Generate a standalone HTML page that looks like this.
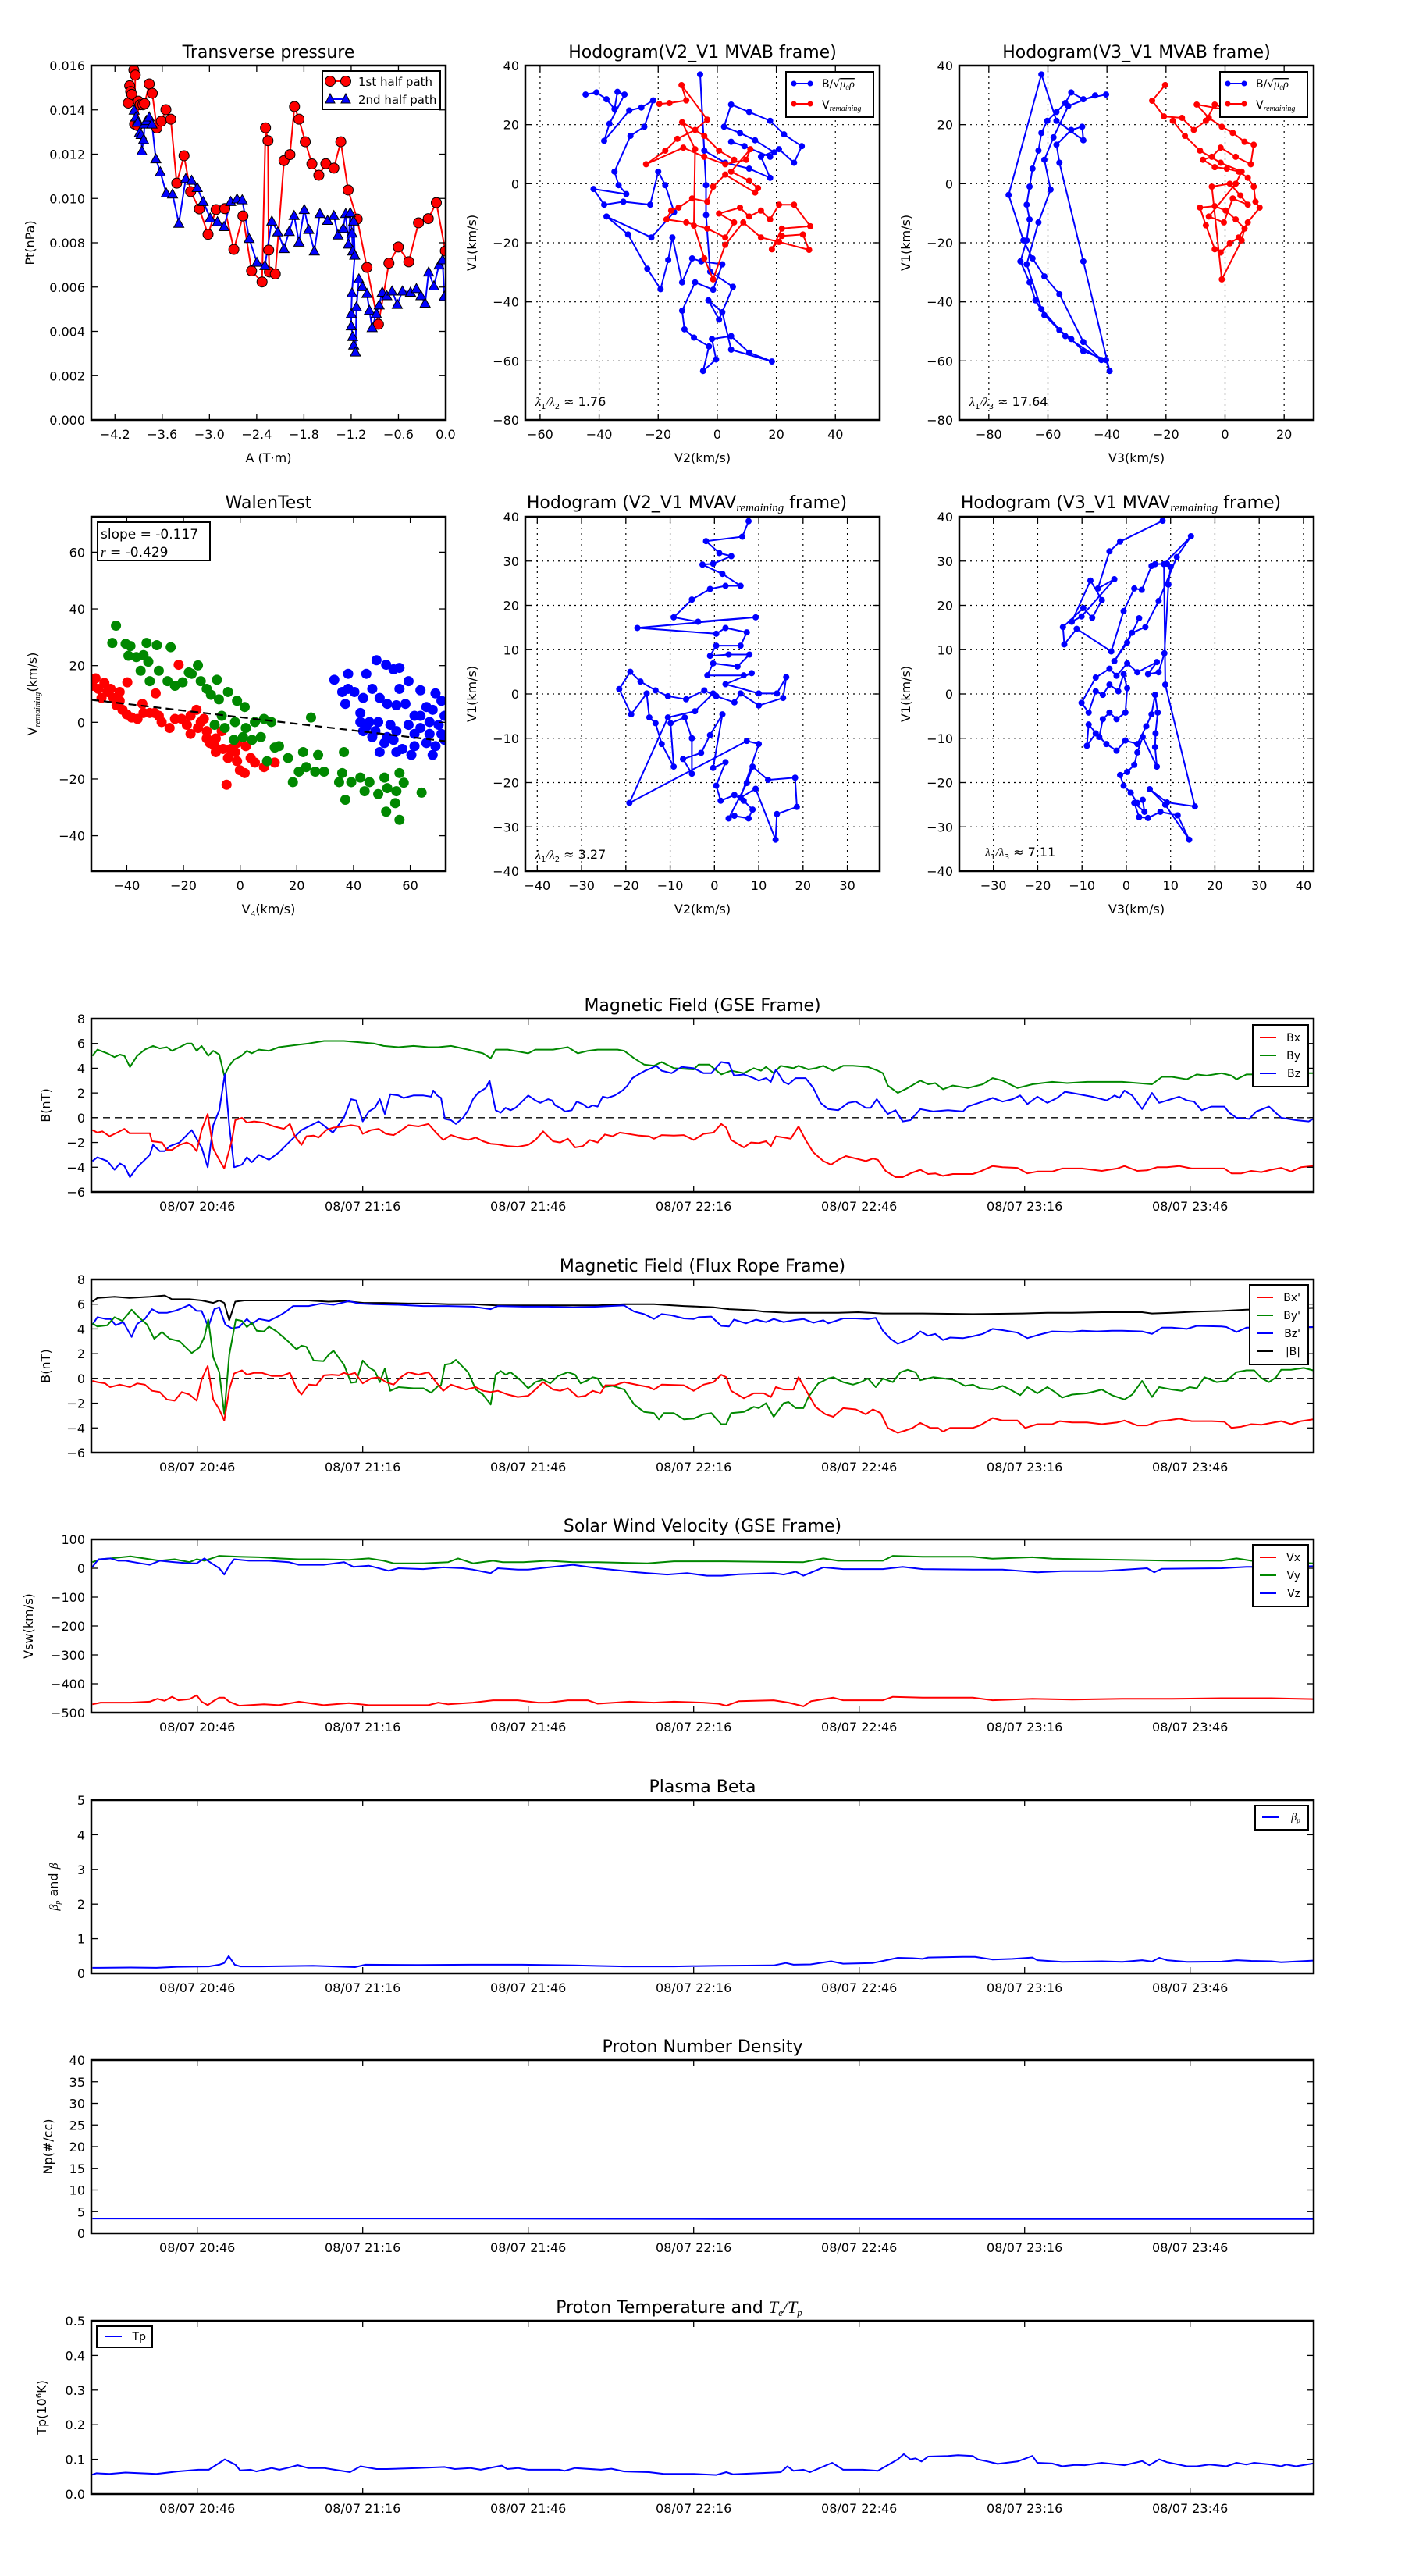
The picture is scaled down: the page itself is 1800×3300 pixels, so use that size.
<!DOCTYPE html>
<html><head><meta charset="utf-8"><style>
html,body{margin:0;padding:0;background:#fff}
svg{display:block;font-family:"DejaVu Sans","Liberation Sans",sans-serif}
</style></head><body>
<svg id="fig" xmlns="http://www.w3.org/2000/svg" width="1800" height="3300" viewBox="0 0 1800 3300">
<rect width="1800" height="3300" fill="#fff"/>
</svg>
<script>
// ---------- Panel 1: Transverse pressure ----------
const p1RedA=[-4.031,-4.013,-4.0,-3.987,-3.96,-3.942,-3.951,-3.911,-3.903,-3.88,-3.845,-3.823,-3.765,-3.726,-3.668,-3.611,-3.553,-3.491,-3.416,-3.323,-3.239,-3.128,-3.018,-2.916,-2.805,-2.69,-2.575,-2.465,-2.332,-2.288,-2.257,-2.248,-2.239,-2.164,-2.053,-1.978,-1.92,-1.863,-1.783,-1.699,-1.611,-1.522,-1.42,-1.332,-1.239,-1.124,-1.0,-0.854,-0.721,-0.602,-0.469,-0.345,-0.221,-0.119,-0.004];
const p1RedP=[0.01431,0.01509,0.01483,0.0147,0.0158,0.01557,0.01336,0.01329,0.01439,0.01423,0.01423,0.01428,0.01517,0.01475,0.01318,0.01349,0.01401,0.01358,0.01069,0.01193,0.01031,0.00953,0.00838,0.0095,0.00954,0.0077,0.00921,0.00673,0.00623,0.01319,0.01261,0.00767,0.00668,0.00659,0.01171,0.01198,0.01415,0.01358,0.01256,0.01156,0.01105,0.01157,0.01137,0.01256,0.01038,0.00907,0.00689,0.00432,0.00708,0.00781,0.00714,0.0089,0.00909,0.00981,0.00763];
const p1BlueA=[-3.956,-3.934,-3.912,-3.889,-3.867,-3.858,-3.836,-3.823,-3.801,-3.765,-3.73,-3.681,-3.624,-3.549,-3.469,-3.389,-3.301,-3.226,-3.155,-3.08,-2.991,-2.898,-2.814,-2.73,-2.65,-2.584,-2.496,-2.398,-2.296,-2.208,-2.133,-2.053,-1.987,-1.925,-1.863,-1.796,-1.739,-1.668,-1.597,-1.5,-1.42,-1.367,-1.301,-1.27,-1.235,-1.212,-1.19,-1.181,-1.168,-1.155,-1.19,-1.199,-1.199,-1.181,-1.168,-1.146,-1.133,-1.102,-1.058,-1.0,-0.969,-0.934,-0.881,-0.845,-0.805,-0.748,-0.681,-0.615,-0.549,-0.447,-0.372,-0.314,-0.261,-0.217,-0.15,-0.084,-0.04,-0.018];
const p1BlueP=[0.01399,0.01368,0.01344,0.01297,0.01289,0.01215,0.01266,0.01336,0.01352,0.01368,0.01336,0.01179,0.0112,0.01025,0.0102,0.00888,0.0109,0.01082,0.01049,0.00986,0.00912,0.00895,0.00873,0.00986,0.00998,0.00994,0.00819,0.00712,0.00697,0.00898,0.00849,0.00774,0.00851,0.00923,0.00803,0.0095,0.0086,0.00763,0.00932,0.00901,0.00923,0.00835,0.00865,0.00932,0.00794,0.00936,0.00844,0.00763,0.00898,0.00744,0.00574,0.0048,0.00425,0.00377,0.00338,0.00307,0.00511,0.00637,0.00602,0.00571,0.00495,0.00417,0.0048,0.00519,0.00577,0.00561,0.00582,0.00522,0.00582,0.00577,0.00593,0.00561,0.00527,0.00668,0.00605,0.007,0.00723,0.00558];
const p1XTicks=[-4.2,-3.6,-3.0,-2.4,-1.8,-1.2,-0.6,0.0];
const p1YTicks=[0,0.002,0.004,0.006,0.008,0.010,0.012,0.014,0.016];

// ---------- Panel 2: Hodogram V2_V1 MVAB ----------
const h2BlueX=[-44.6,-40.9,-37.5,-34.8,-33.8,-31.4,-36.5,-38.3,-29.8,-25.7,-21.7,-24.7,-29.4,-34.8,-33.4,-30.8,-41.9,-38.3,-31.8,-22.7,-20.0,-17.6,-14.6,-22.3,-37.5,-30.2,-23.7,-19.2,-16.6,-15.2,-11.9,-8.5,-5.4,1.7,-1.4,-7.5,-11.9,-11.1,-7.9,-2.8,-4.8,-0.4,-1.8,4.7,10.8,18.5,4.7,1.7,-3.0,0.6,5.3,-2.4,-3.8,-3.8,-5.8,-4.4,2.7,10.8,17.9,14.8,20.9,26.0,28.6,22.6,17.9,10.8,4.7,2.3,7.7,12.8,19.3,17.9,9.2,4.7];
const h2BlueY=[30.2,30.9,28.6,25.3,31.1,30.2,20.3,14.5,24.8,25.8,28.2,19.3,16.2,4.1,-0.5,-3.5,-1.8,-7.1,-6.1,-7.1,4.1,-0.5,-9.6,-18.2,-11.1,-17.2,-28.8,-35.7,-25.8,-18.2,-33.4,-25.3,-26.3,-27.3,-35.9,-33.4,-43.0,-49.3,-52.1,-55.1,-63.4,-59.5,-52.6,-51.6,-57.2,-60.2,-56.2,-43.5,-39.5,-46.0,-34.9,-29.8,-10.6,-0.5,37.0,11.2,7.1,5.1,2.0,9.1,11.7,7.1,12.7,16.7,21.3,24.3,26.8,19.3,17.2,14.7,10.6,9.1,12.7,14.2];
const h2RedX=[-19.6,-16.2,-10.5,-12.1,-3.4,-7.5,-13.5,-17.6,-24.1,-11.5,-4.4,2.7,9.8,11.2,4.7,10.8,13.8,12.8,2.7,-1.4,-3.4,-8.5,-13.1,-15.6,-17.2,-10.5,-3.4,2.7,5.7,0.6,7.7,10.8,14.8,17.9,20.9,26.0,31.5,21.9,18.5,21.9,29.0,31.1,20.9,14.8,8.8,2.7,-1.4,-4.4,-7.9,-7.5,-11.9,-4.4,0.6,5.7];
const h2RedY=[27.0,27.3,28.2,33.4,21.7,18.2,15.2,11.2,6.6,12.2,9.1,6.6,8.1,11.7,4.1,1.0,-1.5,-3.0,3.1,-1.0,-6.1,-5.0,-8.1,-9.1,-12.1,-13.1,-15.2,-18.2,-13.1,-10.1,-8.1,-11.1,-9.1,-12.1,-7.1,-7.1,-14.4,-15.2,-22.2,-17.7,-17.2,-22.4,-19.7,-18.2,-13.1,-20.7,-32.4,-25.3,-14.2,11.7,20.8,16.2,11.2,8.1];
const h2XTicks=[-60,-40,-20,0,20,40];
const hYTicks80=[-80,-60,-40,-20,0,20,40];

// ---------- Panel 3: Hodogram V3_V1 MVAB ----------
const h3BlueX=[-40.3,-48.0,-52.1,-54.1,-57.1,-60.2,-62.2,-63.2,-65.2,-66.2,-67.2,-66.2,-67.2,-69.3,-66.2,-64.2,-61.2,-56.1,-52.1,-48.0,-40.3,-39.1,-48.0,-56.1,-57.1,-52.1,-48.4,-48.0,-57.1,-62.2,-73.3,-68.3,-65.2,-61.2,-56.1,-48.0,-41.9,-54.1,-62.2,-67.2,-63.2,-59.1,-61.2,-58.1,-53.1,-44.0];
const h3BlueY=[30.2,28.6,30.9,27.3,24.3,21.3,17.2,11.2,5.1,-1.0,-7.1,-12.1,-19.2,-26.3,-33.4,-39.5,-44.5,-49.6,-52.6,-56.7,-59.7,-63.4,-26.3,7.1,13.2,18.2,19.3,14.7,21.3,37.0,-3.8,-19.2,-25.3,-31.4,-37.4,-53.6,-59.7,-51.6,-42.5,-27.3,-13.1,-2.0,8.1,15.7,26.3,29.9];
const h3RedX=[-20.3,-24.7,-20.7,-14.6,-10.6,-6.5,-3.5,1.6,-9.6,-5.5,-1.1,2.6,6.6,9.7,8.7,3.6,-1.5,-4.5,-7.5,-3.5,0.6,4.6,7.7,9.7,10.3,11.7,7.7,4.6,1.6,-1.5,-3.5,-6.5,-8.5,-3.5,0.2,3.6,6.6,5.6,-1.1,-4.5,1.6,5.2,7.7,2.6,-0.4,-5.5,3.6,5.6,-1.5,-8.5,-13.6,-17.7];
const h3RedY=[33.4,28.1,22.8,22.3,18.2,21.3,26.8,24.8,26.8,22.3,19.3,17.2,14.2,13.2,6.6,9.1,12.2,9.1,8.1,5.6,5.1,4.1,2.0,-1.0,-6.1,-8.1,-13.1,-18.2,-20.2,-23.3,-22.2,-14.1,-8.1,-7.6,-9.1,-12.1,-15.2,-19.2,-32.4,-1.0,0.0,-4.0,-7.1,-5.0,-13.1,-11.1,0.0,4.1,7.1,11.2,16.2,21.3];
const h3XTicks=[-80,-60,-40,-20,0,20];

// ---------- Panel 4: Walen test ----------
const walenRedX=[-51.0,-50.0,-47.9,-46.8,-44.7,-43.6,-42.5,-41.5,-40.0,-38.3,-36.2,-39.8,-34.5,-31.9,-30.2,-28.7,-27.7,-29.8,-24.9,-21.7,-20.7,-18.8,-17.5,-15.4,-13.9,-11.8,-10.7,-9.0,-6.0,-4.3,-1.8,-0.1,1.6,3.7,5.2,8.4,12.2,-4.8,-11.8,-14.9,-8.6,-1.1,2.0,-17.5,-12.8,-23.0,-48.9,-45.7,-52.1,-42.5,-34.1,-8.6,-3.3,-1.1,-6.5];
const walenRedY=[15.5,11.8,13.9,10.7,8.6,6.0,7.6,4.4,2.8,1.7,1.2,14.1,6.5,3.3,3.3,2.3,0.1,10.2,-2.0,20.3,1.2,-0.9,-4.1,4.4,0.1,-3.1,-7.3,-8.4,-9.4,-12.6,-10.5,-16.9,-17.9,-12.6,-14.2,-15.8,-14.2,-22.0,-5.7,-2.0,-5.7,-7.3,-8.4,2.3,1.2,1.2,8.6,11.8,12.9,10.7,3.3,-10.5,-9.4,-13.7,-3.1];
const walenGreenX=[-43.8,-45.1,-40.4,-38.7,-39.4,-36.6,-33.0,-29.4,-24.5,-34.1,-32.4,-35.1,-31.9,-28.7,-25.6,-23.0,-20.3,-18.1,-14.9,-17.1,-13.9,-11.8,-8.2,-10.3,-7.5,-4.3,-1.1,1.6,-6.5,-9.0,-5.4,-1.8,2.0,5.2,8.4,11.0,-2.2,1.0,4.2,7.3,9.5,12.2,13.7,16.9,18.6,20.7,22.2,23.3,25.0,26.5,27.5,29.6,36.0,36.6,37.1,34.9,39.2,42.4,43.9,45.6,48.7,50.9,51.9,55.1,56.2,57.7,51.5,54.7,56.2,64.0];
const walenGreenY=[34.1,28.0,27.7,26.9,23.5,23.0,28.0,27.2,26.5,23.7,21.4,18.2,14.5,18.2,14.5,12.9,14.1,17.6,20.1,17.1,14.5,11.8,15.0,9.7,8.1,10.7,7.6,5.4,2.3,-0.9,-2.0,0.1,-2.0,0.1,1.2,0.1,-6.2,-5.2,-6.2,-5.2,-13.7,-8.9,-8.4,-12.6,-21.1,-17.4,-10.5,-15.8,1.7,-17.4,-11.5,-17.4,-17.9,-10.5,-27.3,-21.1,-21.1,-19.5,-24.3,-21.1,-25.3,-19.5,-23.2,-24.3,-17.9,-21.3,-31.5,-28.5,-34.4,-24.8];
const walenBlueX=[33.2,38.1,44.5,48.1,51.5,54.1,56.2,59.4,63.6,36.0,40.3,37.1,43.4,46.6,49.2,51.9,55.1,58.3,61.5,65.7,68.9,71.0,72.1,42.4,45.6,48.7,43.4,46.6,50.9,54.1,57.2,61.5,65.7,68.9,71.0,53.0,59.4,63.6,66.8,70.0,72.1,49.2,55.1,60.4,67.9,42.4,38.1,56.2,44.5,47.7,55.1,61.5,66.8,51.9,63.6,67.9];
const walenBlueY=[15.0,17.1,17.1,21.9,20.3,18.7,19.2,14.5,11.3,10.7,10.7,6.5,8.6,11.8,8.6,6.5,6.0,6.5,2.3,5.4,10.2,7.6,2.3,3.3,0.1,0.1,-3.1,-5.2,-7.3,-6.2,-9.4,-8.4,-7.3,-8.4,-4.1,-0.9,-0.9,-2.0,0.1,-0.9,-6.2,-10.5,-10.5,-11.5,-11.5,0.1,11.8,11.8,-1.5,-3.1,-3.1,-4.1,-4.1,-5.2,2.3,4.4];
const walenFit=[-0.117,1.8];
const walenXTicks=[-40,-20,0,20,40,60];
const walenYTicks=[-40,-20,0,20,40,60];

// ---------- Panel 5: Hodogram V2_V1 MVAV ----------
const h5X=[7.7,6.3,-1.9,1.1,3.8,-0.3,-2.7,1.8,5.9,2.5,-1.0,-5.1,-9.2,-3.7,9.3,-17.4,0.4,2.5,7.3,5.9,0.4,-1.0,3.2,7.9,5.2,-0.3,-1.6,6.6,8.4,2.5,10.0,14.1,16.2,15.5,10.0,5.9,4.5,0.4,-2.3,-6.4,-10.5,-13.3,-16.7,-19.0,-21.5,-18.8,-15.3,-14.7,-13.3,-11.9,-9.2,-9.9,-6.7,-5.1,-5.1,-7.1,-3.0,-1.0,1.8,-0.3,2.5,0.4,1.4,4.5,6.6,8.6,7.7,4.5,3.2,7.3,8.6,12.1,18.2,18.6,14.1,13.8,9.3,5.9,10.0,7.3,-19.2,-10.5,-4.4,-0.3];
const h5Y=[39.0,35.5,34.5,31.8,31.1,29.4,29.2,27.1,24.4,24.4,23.7,21.3,17.3,16.3,17.3,14.9,13.6,14.9,13.9,10.9,10.9,8.6,8.9,8.9,6.2,6.9,4.2,4.2,4.7,2.2,0.1,0.1,3.8,-0.9,-2.6,0.1,-1.9,-0.5,0.8,-1.2,-0.5,0.8,2.8,5.0,1.1,-4.6,0.1,-5.3,-6.6,-11.3,-16.4,-6.6,-5.3,-10.0,-18.0,-14.7,-13.3,-9.3,-4.6,-16.7,-15.4,-20.7,-24.1,-22.8,-24.1,-26.1,-28.1,-27.5,-28.1,-20.1,-16.4,-19.4,-18.9,-25.5,-27.1,-32.9,-21.4,-23.4,-11.3,-10.6,-24.6,-5.3,-3.9,0.1];
const h5XTicks=[-40,-30,-20,-10,0,10,20,30];
const hYTicks40=[-40,-30,-20,-10,0,10,20,30,40];

// ---------- Panel 6: Hodogram V3_V1 MVAV ----------
const h6X=[8.2,-1.4,-3.8,-6.4,-2.7,-10.1,-12.3,-8.1,-5.5,-7.7,-9.7,-14.3,-14.0,-11.2,-3.4,-0.6,1.8,3.5,5.7,6.5,9.2,10.0,9.5,8.6,7.3,4.9,6.9,2.5,0.2,-2.2,-3.8,-6.9,-10.1,-8.5,-6.9,-5.3,-3.8,-1.8,-0.6,0.2,-0.2,-2.2,-3.8,-5.3,-6.1,-8.5,-8.9,-6.9,-4.5,-2.2,-0.2,2.5,4.5,5.7,6.5,7.1,6.6,6.5,6.9,3.7,2.5,1.8,0.2,-1.4,-0.6,1.0,2.5,3.7,4.1,1.8,2.9,4.9,7.7,11.6,14.2,8.8,5.3,9.2,15.5,8.8,8.5,14.6,11.4,7.3,4.3,1.3,-2.7,0.2,2.9];
const h6Y=[39.1,34.4,32.2,23.8,25.9,17.5,16.3,25.6,21.2,17.2,19.4,15.1,11.2,14.7,9.6,18.7,23.8,23.5,28.9,29.3,29.4,28.7,24.7,9.2,4.9,4.5,7.2,4.9,6.9,4.1,5.7,3.7,-2.0,-4.2,0.6,-0.2,2.1,0.6,4.5,1.3,-4.2,-5.7,-4.2,-5.7,-9.7,-6.9,-11.7,-8.9,-11.3,-12.8,-10.5,-11.3,-7.3,-4.6,-0.2,-4.2,-8.9,-12.0,-16.4,-9.7,-13.2,-16.0,-17.6,-18.3,-20.7,-22.3,-24.6,-23.9,-26.6,-24.6,-27.8,-28.0,-26.6,-27.4,-32.9,-25.0,-21.5,-24.5,-25.4,2.1,29.3,35.6,30.9,21.0,15.1,13.8,7.4,11.6,17.1];
const h6XTicks=[-30,-20,-10,0,10,20,30,40];

// ---------- Time series (minutes since 20:00) ----------
const timeTicks=[46,76,106,136,166,196,226];
const timeTickLabels=["08/07 20:46","08/07 21:16","08/07 21:46","08/07 22:16","08/07 22:46","08/07 23:16","08/07 23:46"];
const gseByT=[27.0,27.9,29.7,31.0,32.0,32.8,33.8,35.1,36.5,38.0,39.2,40.5,41.4,42.8,44.1,45.0,45.9,46.8,48.0,48.9,50.0,50.9,51.8,52.7,54.0,55.0,55.9,57.2,59.0,60.8,62.6,64.4,66.2,69.0,72.6,75.3,78.0,79.8,82.5,85.2,87.9,89.7,92.0,95.1,97.8,99.2,100.1,102.3,106.0,107.3,110.5,113.2,115.0,116.8,118.6,122.2,123.4,125.2,127.0,128.8,130.2,132.4,136.0,136.9,138.8,141.0,142.8,145.1,146.9,148.2,149.1,150.5,151.8,154.1,155.0,156.8,158.1,159.5,161.3,163.1,164.9,167.6,169.4,170.3,171.2,173.0,174.8,177.1,178.5,179.8,181.2,183.0,185.7,188.4,190.2,192.0,194.7,197.4,201.0,203.7,207.3,210.0,213.7,219.1,220.9,222.7,225.4,227.2,229.0,231.7,233.5,234.4,236.2,237.6,240.7,243.4,245.7,248.3];
const gseByV=[5.0,5.5,5.2,4.9,5.1,5.0,4.1,5.0,5.5,5.8,5.6,5.7,5.4,5.7,6.0,6.0,5.4,5.8,5.0,5.4,5.1,3.4,4.2,4.7,5.0,5.4,5.2,5.5,5.4,5.7,5.8,5.9,6.0,6.2,6.2,6.1,6.0,5.8,5.7,5.8,5.7,5.7,5.8,5.5,5.2,4.8,5.5,5.5,5.2,5.5,5.5,5.7,5.2,5.4,5.5,5.5,5.4,4.8,4.3,4.2,4.5,4.0,3.9,4.3,4.3,3.5,3.8,3.6,4.0,3.8,4.1,3.6,4.2,4.0,4.2,3.9,4.0,4.2,3.8,4.2,4.2,4.1,3.8,3.6,2.6,2.0,2.4,3.0,2.7,2.8,2.3,2.6,2.4,2.7,3.2,3.0,2.4,2.7,2.9,2.8,2.9,2.9,2.9,2.7,3.3,3.3,3.1,3.5,3.4,3.6,3.4,3.1,3.5,3.5,3.6,3.6,3.6,3.6];
const gseBzT=[27.0,27.9,29.7,31.0,32.0,32.8,33.8,35.1,36.5,37.4,38.0,39.2,40.1,41.0,42.8,45.0,46.8,47.9,48.9,50.0,51.0,51.8,52.7,54.1,55.0,55.9,57.2,59.0,60.8,62.6,64.9,68.0,70.6,72.6,73.9,74.8,76.0,77.1,78.2,79.1,80.0,81.0,82.5,83.4,85.2,87.0,88.4,88.8,89.5,90.2,90.9,92.0,92.9,94.2,95.1,96.0,96.9,98.3,99.0,100.1,101.0,101.9,102.8,103.7,105.1,106.0,107.3,108.2,109.6,110.3,110.9,111.8,112.7,113.9,114.8,115.9,116.8,117.7,118.6,119.5,120.4,121.7,123.1,124.0,124.9,126.0,127.2,128.3,129.2,130.2,132.0,133.8,136.0,137.8,139.2,141.0,142.4,143.3,145.1,146.9,147.8,149.1,150.0,150.9,152.3,153.2,154.5,156.3,157.7,159.0,160.4,162.2,164.0,165.4,167.2,168.1,169.2,170.3,171.2,172.6,173.9,175.3,177.1,179.4,182.1,184.8,185.7,188.4,190.2,192.0,193.8,195.2,196.5,198.3,200.1,201.9,203.3,204.6,208.2,210.9,212.3,213.2,214.1,215.5,217.3,219.1,220.4,224.0,225.4,226.7,228.1,229.9,232.2,233.1,234.4,236.7,238.0,240.3,242.5,245.2,247.5,248.3];
const gseBzV=[-3.5,-3.2,-3.5,-4.2,-3.7,-3.9,-4.8,-4.0,-3.4,-3.0,-2.2,-2.7,-2.7,-2.3,-2.0,-1.0,-2.4,-4.0,-0.6,0.6,3.5,-0.6,-4.0,-3.8,-3.2,-3.6,-3.0,-3.4,-2.8,-2.0,-1.0,-0.3,-1.2,0,1.5,1.4,-0.3,0.5,0.8,1.5,0.3,1.9,1.8,1.6,1.8,1.8,1.7,2.2,1.8,1.6,-0.1,-0.2,-0.5,0,0.6,1.5,2.0,2.4,3.0,0.6,0.4,0.8,0.6,0.8,1.4,1.8,1.4,1.2,1.5,1.4,1.0,0.8,0.5,0.6,1.3,1.1,0.8,1.0,0.9,1.7,1.6,1.8,2.2,2.6,3.2,3.5,3.8,4.0,4.2,3.8,3.6,4.1,4.0,3.6,3.6,4.5,4.4,3.4,3.5,3.2,3.0,3.2,2.9,3.9,2.9,2.7,3.2,3.2,2.4,1.2,0.7,0.6,1.2,1.3,0.8,0.8,1.5,0.8,0.3,0.6,-0.3,-0.2,0.7,0.5,0.6,0.5,0.9,1.3,1.6,1.3,1.5,1.8,1.1,1.7,1.2,1.6,2.1,2.0,1.7,1.4,1.8,1.6,2.2,1.8,0.7,2.0,1.2,1.7,1.4,1.3,0.6,0.9,0.9,0.4,0,-0.1,0.5,0.9,0,-0.2,-0.3,-0.1];
const gseBxT=[27.0,27.9,28.8,30.1,31.5,32.8,33.7,36.0,37.4,37.8,39.6,40.5,41.4,42.8,44.1,45.0,45.9,46.8,47.9,48.9,50.0,50.9,52.3,52.9,54.1,55.0,56.3,58.1,59.9,61.7,62.8,63.7,64.9,65.8,67.1,68.0,69.4,70.7,72.6,73.9,75.3,76.0,77.5,78.9,80.2,81.6,82.9,84.3,86.1,87.9,89.3,90.6,92.0,93.3,95.1,96.5,97.8,99.2,100.5,102.3,104.1,106.0,107.3,108.7,110.5,111.8,113.2,114.5,115.9,117.2,118.6,119.9,121.3,122.6,123.4,126.1,127.9,128.8,130.2,132.4,134.2,136.0,137.8,139.6,141.0,141.9,142.8,145.1,146.4,147.8,149.1,150.0,150.9,152.3,153.6,155.0,156.3,157.7,159.5,160.9,162.2,163.6,165.4,167.2,168.5,169.4,170.8,172.6,173.9,175.3,177.1,178.5,179.8,181.2,183.0,186.6,187.9,190.2,192.0,194.7,196.5,198.3,201.0,202.8,206.4,210.0,212.8,214.1,216.4,218.2,220.0,221.8,224.0,226.3,229.9,232.2,233.5,235.3,237.1,238.9,240.7,242.5,244.3,246.1,248.3];
const gseBxV=[-1.0,-1.2,-1.1,-1.5,-1.2,-0.9,-1.25,-1.25,-1.25,-1.9,-2.0,-2.6,-2.6,-2.2,-2.0,-2.2,-2.7,-1.0,0.3,-2.5,-3.4,-4.1,-1.8,-0.2,0,-0.4,-0.3,-0.4,-0.7,-0.9,-0.5,-1.5,-2.2,-1.5,-1.45,-1.6,-1.0,-0.8,-0.7,-0.6,-0.7,-1.3,-1.0,-0.9,-1.3,-1.4,-1.05,-0.6,-0.7,-0.5,-1.2,-1.8,-1.4,-1.6,-1.8,-1.6,-1.9,-2.1,-2.15,-2.3,-2.35,-2.2,-1.8,-1.1,-1.9,-2.0,-1.7,-2.4,-2.3,-1.8,-2.0,-1.35,-1.5,-1.2,-1.25,-1.45,-1.5,-1.7,-1.4,-1.45,-1.4,-1.8,-1.3,-1.2,-0.5,-0.8,-1.8,-2.4,-2.0,-2.05,-1.9,-2.3,-1.5,-1.6,-1.7,-0.7,-1.8,-2.8,-3.5,-3.8,-3.4,-3.1,-3.3,-3.5,-3.3,-3.4,-4.3,-4.8,-4.8,-4.5,-4.2,-4.55,-4.5,-4.7,-4.55,-4.55,-4.35,-3.9,-4.0,-4.05,-4.5,-4.35,-4.35,-4.1,-4.1,-4.3,-4.1,-3.9,-4.3,-4.25,-4.0,-4.0,-3.9,-4.1,-4.1,-4.1,-4.5,-4.5,-4.3,-4.4,-4.2,-4.05,-4.35,-4.0,-3.9];

const frBmagT=[27.0,27.9,31.0,33.7,37.4,40.1,41.4,44.6,46.8,48.9,50.0,50.9,51.8,52.9,54.5,58.1,62.6,66.2,69.8,72.6,76.2,79.8,84.3,87.9,91.5,96.0,100.5,105.1,109.6,114.1,118.6,123.4,128.8,134.2,139.6,142.4,146.9,148.7,153.2,157.7,162.2,165.8,170.3,177.5,186.6,195.6,200.1,204.6,210.0,217.3,219.1,222.7,227.2,231.7,236.2,240.7,248.3];
const frBmagV=[6.2,6.5,6.6,6.5,6.6,6.7,6.4,6.4,6.3,6.1,6.3,6.1,4.7,6.2,6.3,6.3,6.3,6.3,6.2,6.25,6.1,6.1,6.05,6.05,6.0,6.0,5.9,5.9,5.9,5.9,5.9,6.0,6.0,5.85,5.75,5.6,5.5,5.4,5.3,5.3,5.3,5.35,5.25,5.25,5.2,5.25,5.3,5.3,5.35,5.35,5.25,5.3,5.4,5.45,5.55,5.6,5.7];
const frBzT=[27.0,27.9,29.4,30.3,31.2,32.6,34.1,35.1,36.5,37.8,39.0,40.5,41.9,42.8,44.6,45.9,46.8,48.0,49.1,50.0,51.1,52.3,53.6,55.0,55.9,57.2,59.0,60.8,62.1,63.4,66.2,68.5,70.7,73.5,75.3,78.0,82.5,87.0,91.5,96.0,99.2,100.5,105.1,109.6,114.1,118.6,123.4,125.2,127.0,128.8,130.2,132.0,134.2,136.0,136.9,139.2,141.0,142.4,143.3,145.5,147.3,149.1,150.5,152.3,154.1,155.9,157.7,159.5,160.4,163.1,165.4,167.6,169.0,170.3,171.7,173.0,174.4,175.7,177.1,178.5,179.8,181.2,182.5,184.8,186.6,188.4,190.2,192.0,194.7,196.5,198.3,201.0,204.6,206.4,209.1,211.8,213.7,217.3,219.1,220.9,222.7,225.4,227.2,231.7,232.6,234.4,236.2,248.3];
const frBzV=[4.35,4.95,4.8,4.8,4.3,4.55,3.35,4.4,4.8,5.6,5.3,5.3,5.45,5.6,5.95,5.45,5.45,4.15,5.6,5.75,4.35,4.05,4.15,4.8,4.4,4.8,4.65,5.05,5.4,5.85,5.85,6.05,5.95,6.25,6.05,6.0,5.95,5.85,5.85,5.8,5.6,5.85,5.8,5.8,5.75,5.8,5.9,5.4,5.2,4.8,5.2,5.1,4.85,4.8,4.95,5.0,4.25,4.2,4.75,4.45,4.75,4.55,4.8,4.55,4.7,4.8,4.5,4.7,4.45,4.85,4.85,4.8,4.9,3.85,3.2,2.8,3.05,3.3,3.8,3.45,3.6,3.1,3.3,3.25,3.4,3.6,4.0,3.9,3.7,3.25,3.5,3.8,3.75,3.85,3.8,3.85,3.85,3.8,3.6,4.1,4.1,4.0,4.25,4.2,4.15,3.75,4.1,4.15];
const frByT=[27.0,27.9,29.7,31.0,32.4,34.1,35.4,36.9,38.2,39.6,41.0,42.8,45.0,46.4,47.3,48.0,48.9,50.0,50.9,51.8,53.0,54.1,55.0,55.9,56.8,58.1,59.0,60.4,62.6,64.0,64.9,65.8,67.1,68.9,69.8,70.7,72.6,73.9,74.8,76.0,77.1,78.2,79.1,80.0,81.0,82.5,85.2,87.0,88.4,89.7,90.2,90.9,92.0,92.9,95.1,96.5,97.8,99.2,100.1,101.0,101.9,102.8,104.6,106.0,107.3,108.7,110.0,111.4,113.2,114.5,115.5,116.8,117.7,118.6,119.5,121.3,123.4,125.2,127.0,128.8,129.7,130.6,132.4,134.2,136.0,137.8,139.2,141.0,141.9,142.8,145.1,146.9,147.8,149.1,150.5,152.3,153.2,154.5,155.9,156.8,158.6,160.4,161.3,163.1,164.9,166.3,167.6,169.0,170.3,172.1,173.5,174.8,176.2,177.1,179.4,183.0,185.2,186.6,187.9,190.2,192.0,193.4,195.2,196.5,198.3,200.1,201.5,202.8,204.6,207.3,210.0,211.8,214.1,215.5,217.3,219.1,220.4,222.7,224.5,225.9,227.2,228.6,230.8,232.6,234.4,236.2,237.6,239.0,240.3,241.6,242.5,244.3,246.6,248.3];
const frByV=[4.45,4.2,4.3,4.95,4.65,5.55,4.95,4.35,3.2,3.75,3.2,3.0,2.05,2.5,3.35,4.75,1.7,0.5,-2.9,1.9,4.75,4.65,4.15,4.5,3.85,3.8,4.2,3.8,2.95,2.35,2.65,2.55,1.45,1.4,1.9,2.25,1.1,-0.35,-0.3,1.45,0.9,0.6,-0.3,0.8,-1.0,-0.7,-0.8,-0.8,-1.15,-0.6,-0.55,1.1,1.2,1.5,0.5,-0.9,-1.3,-2.1,0.3,0.6,0.3,0.5,-0.15,-0.8,-0.3,-0.1,-0.4,0.2,0.5,0.3,-0.4,-0.15,0.1,0,-0.7,-0.6,-0.9,-2.1,-2.7,-2.8,-3.3,-2.8,-2.8,-3.3,-3.25,-2.9,-2.8,-3.7,-3.7,-2.8,-2.7,-2.3,-2.4,-2.0,-3.1,-2.0,-1.9,-2.4,-2.4,-1.5,-0.4,0,0.1,-0.3,-0.5,-0.3,0,-0.7,0,-0.3,0.5,0.7,0.5,-0.15,0.1,-0.1,-0.6,-0.5,-0.8,-0.9,-0.6,-0.9,-1.35,-0.7,-1.2,-0.7,-1.1,-1.55,-1.3,-1.2,-0.9,-1.35,-1.7,-1.3,-0.2,-1.5,-0.7,-0.9,-1.0,-0.7,-0.8,0.1,-0.3,-0.2,0.5,0.65,0.65,0,-0.3,0.1,0.7,0.7,0.85,0.65];
const frBxT=[27.0,27.9,29.3,30.2,32.0,33.8,35.1,36.5,37.8,39.2,40.5,41.9,43.2,44.6,45.9,46.8,47.9,48.9,50.0,50.9,51.8,52.7,54.1,55.0,56.3,57.7,59.5,61.3,62.8,64.0,64.9,66.2,67.6,69.0,70.4,71.7,72.6,73.5,74.6,76.0,77.5,78.9,80.2,81.6,82.9,84.3,86.1,87.9,89.3,90.6,92.0,93.3,94.7,96.5,97.8,99.2,100.5,102.3,104.1,106.0,107.3,108.7,110.5,111.8,113.2,115.0,116.4,117.7,119.1,120.0,121.7,123.4,126.1,127.9,128.8,130.2,134.2,136.0,137.8,139.6,141.0,141.9,142.8,145.1,146.9,148.7,150.0,150.9,152.3,154.1,155.0,156.3,158.1,159.9,161.3,163.1,165.4,167.2,168.5,169.9,171.2,173.0,174.4,175.7,177.1,178.9,180.3,181.2,182.5,184.8,186.6,187.9,190.2,192.0,194.7,196.1,198.3,201.0,202.4,204.6,207.3,210.0,212.8,214.1,216.4,218.2,220.4,221.8,224.0,226.3,229.9,232.2,233.5,235.3,237.1,238.9,240.7,242.5,244.3,246.1,248.3];
const frBxV=[-0.2,-0.3,-0.4,-0.7,-0.5,-0.7,-0.4,-0.5,-1.0,-1.1,-1.7,-1.8,-1.1,-1.3,-1.8,-0.1,1.0,-1.7,-2.5,-3.4,-0.9,0.4,0.65,0.3,0.45,0.45,0.2,0.2,0.45,-0.8,-1.3,-0.5,-0.55,0.25,0.3,0.25,0.45,0.3,0.45,-0.4,0,0.1,-0.3,-0.5,0.1,0.5,0.3,0.5,-0.3,-1.0,-0.5,-0.7,-0.9,-0.7,-1.0,-1.1,-1.0,-1.3,-1.5,-1.4,-0.9,-0.3,-0.9,-1.0,-0.8,-1.5,-1.4,-1.0,-1.2,-0.55,-0.55,-0.3,-0.55,-0.7,-0.9,-0.5,-0.55,-1.0,-0.5,-0.3,0.3,0.1,-1.0,-1.6,-1.2,-1.2,-1.5,-0.7,-0.9,-0.9,0.1,-0.9,-2.3,-2.9,-3.1,-2.4,-2.5,-2.9,-2.5,-2.8,-4.0,-4.4,-4.2,-4.0,-3.6,-4.0,-4.0,-4.3,-4.0,-4.0,-4.0,-3.8,-3.2,-3.4,-3.4,-4.0,-3.7,-3.7,-3.45,-3.55,-3.55,-3.7,-3.55,-3.4,-3.8,-3.8,-3.45,-3.4,-3.25,-3.45,-3.45,-3.5,-4.0,-3.9,-3.7,-3.75,-3.6,-3.45,-3.7,-3.45,-3.3];

const vxT=[27.0,28.5,31.2,33.9,37.4,38.8,40.1,41.4,42.6,44.6,45.9,46.8,47.9,48.9,50.0,50.9,51.8,53.6,55.4,58.1,60.8,63.5,64.4,68.9,73.5,77.1,82.5,87.9,89.7,91.5,96.0,99.6,100.5,104.1,107.8,109.6,113.2,116.8,118.6,124.4,128.8,132.4,137.8,140.5,141.9,144.2,150.5,153.2,155.9,157.3,161.3,163.1,170.3,172.1,177.5,186.6,190.2,197.4,204.6,213.7,222.7,231.7,240.7,248.3];
const vxV=[-471,-465,-465,-465,-462,-452,-459,-445,-457,-453,-440,-462,-474,-460,-448,-448,-462,-476,-474,-471,-474,-465,-462,-474,-467,-474,-474,-474,-465,-471,-465,-457,-457,-457,-465,-465,-457,-457,-469,-462,-465,-462,-465,-469,-476,-460,-457,-465,-478,-460,-448,-457,-457,-445,-448,-448,-457,-452,-455,-452,-452,-450,-450,-453];
const vyT=[27.0,28.5,30.3,33.9,37.4,39.2,41.9,44.6,45.9,47.3,50.0,53.6,57.2,60.8,64.4,68.9,73.5,77.1,79.8,81.6,87.0,91.5,93.3,96.0,99.6,101.4,105.1,109.6,114.1,118.6,127.6,132.4,141.4,150.5,155.9,159.5,162.2,170.3,172.1,177.5,186.6,190.2,197.4,201.0,213.7,222.7,231.7,234.4,237.1,248.3];
const vyV=[21,31,34,41,31,26,31,21,31,26,43,40,38,34,31,31,29,34,26,17,17,21,34,17,26,21,21,26,21,21,17,24,24,22,21,34,26,26,43,40,40,33,38,33,29,26,26,34,26,17];
const vzT=[27.0,28.1,30.3,31.7,33.0,35.7,37.4,39.2,41.9,44.6,45.9,47.3,48.6,50.0,50.9,51.8,52.7,55.4,59.0,62.6,64.4,68.9,72.6,74.3,77.1,80.7,82.5,87.0,90.6,94.2,96.0,97.8,99.2,100.5,104.1,106.0,109.6,114.1,118.6,123.1,125.8,127.6,131.2,134.8,138.4,141.1,144.2,150.5,152.3,154.5,155.9,159.5,163.1,170.3,173.9,177.5,186.6,192.0,195.6,198.3,202.8,210.0,218.2,219.5,220.9,231.7,236.2,240.7,248.3];
const vzV=[5,31,34,26,26,17,12,26,21,17,17,34,17,0,-22,9,31,26,26,21,12,12,21,5,9,-9,0,-3,3,0,-5,-12,-17,0,-5,-5,3,12,0,-9,-14,-17,-22,-17,-26,-26,-21,-17,-22,-12,-26,3,-3,-3,5,-3,-5,-5,-10,-14,-10,-10,0,-14,-2,0,5,5,7];

const betaT=[27,33.9,38.6,42.4,48.1,50.0,50.9,51.7,52.8,53.8,57.6,67.0,74.6,76.5,86.0,95.5,104.9,114.4,123.4,132.4,140.5,150.5,152.7,154.1,157.2,160.9,163.1,168.5,173.0,175.7,177.5,178.5,184.8,187.0,190.2,193.8,197.4,198.3,202.8,210.0,213.7,217.3,219.1,220.4,221.8,225.4,231.7,234.4,237.1,240.7,242.5,248.3];
const betaV=[0.16,0.17,0.16,0.19,0.2,0.25,0.3,0.5,0.25,0.2,0.2,0.22,0.18,0.25,0.24,0.25,0.25,0.23,0.2,0.2,0.22,0.23,0.3,0.25,0.26,0.35,0.28,0.3,0.45,0.44,0.42,0.46,0.48,0.48,0.4,0.42,0.46,0.38,0.33,0.35,0.33,0.38,0.34,0.45,0.38,0.33,0.34,0.38,0.36,0.35,0.32,0.37];
const npT=[27,80,140,200,248.3];
const npV=[3.4,3.4,3.3,3.3,3.3];
const tpT=[26.8,27.7,30.1,33.0,38.6,42.4,46.2,48.1,51.0,52.9,53.8,55.7,56.7,59.5,60.9,62.3,64.2,66.1,69.0,70.9,73.7,75.6,78.5,80.4,86.0,90.8,92.7,95.5,97.4,101.2,102.2,104.1,106.0,111.6,112.6,114.5,119.2,121.1,123.4,127.9,130.6,136.0,140.1,141.9,143.1,150.5,151.8,153.0,154.1,155.9,157.1,161.1,163.1,166.7,169.4,173.0,174.1,175.3,176.2,177.3,178.5,182.1,183.9,186.6,187.5,189.3,191.1,194.7,197.4,198.3,201.0,202.8,205.1,206.9,210.0,214.1,217.3,218.6,220.4,221.8,225.4,227.2,229.5,232.6,234.4,236.2,237.6,240.7,242.5,243.4,245.2,248.3];
const tpV=[0.055,0.06,0.058,0.062,0.058,0.065,0.07,0.07,0.1,0.085,0.068,0.07,0.065,0.075,0.07,0.075,0.083,0.075,0.075,0.07,0.063,0.08,0.072,0.072,0.075,0.078,0.072,0.075,0.07,0.082,0.072,0.075,0.07,0.07,0.067,0.075,0.07,0.073,0.065,0.063,0.058,0.058,0.055,0.063,0.057,0.062,0.063,0.08,0.067,0.07,0.063,0.09,0.07,0.07,0.067,0.1,0.115,0.1,0.103,0.094,0.108,0.11,0.112,0.11,0.1,0.094,0.087,0.094,0.11,0.09,0.088,0.08,0.084,0.083,0.09,0.083,0.095,0.083,0.1,0.092,0.08,0.08,0.085,0.08,0.09,0.085,0.09,0.085,0.08,0.085,0.08,0.088];

// ================= drawing =================
const NS="http://www.w3.org/2000/svg";
const svg=document.getElementById('fig');
let clipN=0;
function el(tag,attrs,parent){const e=document.createElementNS(NS,tag);for(const k in attrs)e.setAttribute(k,attrs[k]);(parent||svg).appendChild(e);return e;}
function txt(s,x,y,size,anchor,parent,extra){const t=el('text',Object.assign({x:x,y:y,'font-size':size,'text-anchor':anchor||'middle',fill:'#000'},extra||{}),parent);t.textContent=s;return t;}
function fmt(v,d){let s=v.toFixed(d);s=s.replace('-','\u2212');return s;}

function makeAxes(name,L,T,W,H,xd,yd){
  const g=el('g',{});
  
  
  const id='clip'+(clipN++);
  const cp=el('clipPath',{id:id},g);el('rect',{x:L,y:T,width:W,height:H},cp);
  const data=el('g',{'clip-path':'url(#'+id+')'},g);
  
  
  return {g:g,data:data,L:L,T:T,W:W,H:H,
    x:v=>L+(v-xd[0])/(xd[1]-xd[0])*W,
    y:v=>T+H-(v-yd[0])/(yd[1]-yd[0])*H};
}
function drawTicks(ax,xt,xl,yt,yl,opt){
  opt=opt||{};
  const fs=opt.fs||16,tl=8;
  const gt=el('g',{stroke:'#000','stroke-width':1.3},ax.g);
  
  
  if(opt.grid){
    const gg=el('g',{stroke:'#000','stroke-width':1.2,'stroke-dasharray':'2,5'},ax.data);
    
    
    xt.forEach(v=>{const X=ax.x(v);el('line',{x1:X,x2:X,y1:ax.T,y2:ax.T+ax.H},gg);});
    yt.forEach(v=>{const Y=ax.y(v);el('line',{x1:ax.L,x2:ax.L+ax.W,y1:Y,y2:Y},gg);});
  }
  xt.forEach((v,i)=>{const X=ax.x(v);
    el('line',{x1:X,x2:X,y1:ax.T+ax.H,y2:ax.T+ax.H-tl},gt);el('line',{x1:X,x2:X,y1:ax.T,y2:ax.T+tl},gt);
    const t=txt(xl[i],X,ax.T+ax.H+(opt.xoff||24),fs,'middle',ax.g);
    
    });
  yt.forEach((v,i)=>{const Y=ax.y(v);
    el('line',{x1:ax.L,x2:ax.L+tl,y1:Y,y2:Y},gt);el('line',{x1:ax.L+ax.W,x2:ax.L+ax.W-tl,y1:Y,y2:Y},gt);
    const t=txt(yl[i],ax.L-8,Y+6,fs,'end',ax.g);
    
    });
}
function frame(ax){const r=el('rect',{x:ax.L,y:ax.T,width:ax.W,height:ax.H,fill:'none',stroke:'#000','stroke-width':2.5},ax.g);
  
  }
function line(ax,xs,ys,color,w,name){
  const p=xs.map((v,i)=>ax.x(v).toFixed(1)+','+ax.y(ys[i]).toFixed(1)).join(' ');
  const pl=el('polyline',{points:p,fill:'none',stroke:color,'stroke-width':w||2,'stroke-linejoin':'round'},ax.data);
  
  
  return pl;
}
function dots(ax,xs,ys,color,r,name,stroke){
  const g=el('g',{fill:color},ax.data);
  
  
  xs.forEach((v,i)=>{const c=el('circle',{cx:ax.x(v),cy:ax.y(ys[i]),r:r},g);if(stroke){c.setAttribute('stroke','#000');c.setAttribute('stroke-width',1);}});
}
function tris(ax,xs,ys,color,s,name){
  const g=el('g',{fill:color,stroke:'#000','stroke-width':1},ax.data);
  
  
  xs.forEach((v,i)=>{const X=ax.x(v),Y=ax.y(ys[i]);el('polygon',{points:`${X},${Y-s} ${X-s},${Y+s*0.8} ${X+s},${Y+s*0.8}`},g);});
}
function title(s,x,y,size,name){const t=txt(s,x,y,size||22,'middle');return t;}
function ylabel(s,x,y,size,name){const t=txt(s,x,y,size||16,'middle',svg,{transform:`rotate(-90 ${x} ${y})`});return t;}
function xlabel(s,x,y,size,name){const t=txt(s,x,y,size||16,'middle');return t;}

// ---- Panel 1
(function(){
  const ax=makeAxes('transverse-pressure-chart',117,84,454,454,[-4.5,0],[0,0.016]);
  drawTicks(ax,p1XTicks,p1XTicks.map(v=>fmt(v,1)),p1YTicks,p1YTicks.map(v=>v.toFixed(3)));
  line(ax,p1RedA,p1RedP,'#f00',2,'first-half-line');
  line(ax,p1BlueA,p1BlueP,'#00f',2,'second-half-line');
  dots(ax,p1RedA,p1RedP,'#f00',6.5,'first-half-markers',true);
  tris(ax,p1BlueA,p1BlueP,'#00f',6.5,'second-half-markers');
  frame(ax);
  title('Transverse pressure',344,74);
  xlabel('A (T\u00b7m)',344,592);
  ylabel('Pt(nPa)',44,311);
  const lg=el('g',{});
  
  
  el('rect',{x:413,y:91,width:151,height:49,fill:'#fff',stroke:'#000','stroke-width':2},lg);
  el('line',{x1:423,x2:443,y1:104,y2:104,stroke:'#f00','stroke-width':2},lg);
  el('circle',{cx:423,cy:104,r:6.5,fill:'#f00',stroke:'#000'},lg);el('circle',{cx:443,cy:104,r:6.5,fill:'#f00',stroke:'#000'},lg);
  el('line',{x1:423,x2:443,y1:127,y2:127,stroke:'#00f','stroke-width':2},lg);
  el('polygon',{points:'423,120 417,132 429,132',fill:'#00f',stroke:'#000'},lg);el('polygon',{points:'443,120 437,132 449,132',fill:'#00f',stroke:'#000'},lg);
  txt('1st half path',459,110,15,'start',lg);
  txt('2nd half path',459,133,15,'start',lg);
})();

function mvabLegend(x0){
  const lg=el('g',{});
  
  
  el('rect',{x:x0,y:92,width:112,height:58,fill:'#fff',stroke:'#000','stroke-width':2},lg);
  el('line',{x1:x0+10,x2:x0+31,y1:107,y2:107,stroke:'#00f','stroke-width':2},lg);
  el('circle',{cx:x0+10,cy:107,r:3.5,fill:'#00f'},lg);el('circle',{cx:x0+31,cy:107,r:3.5,fill:'#00f'},lg);
  el('line',{x1:x0+10,x2:x0+31,y1:133,y2:133,stroke:'#f00','stroke-width':2},lg);
  el('circle',{cx:x0+10,cy:133,r:3.5,fill:'#f00'},lg);el('circle',{cx:x0+31,cy:133,r:3.5,fill:'#f00'},lg);
  const t1=txt('B/\u221a',x0+46,112,14,'start',lg);
  const s1=el('tspan',{'font-family':'Liberation Serif,serif','font-style':'italic','text-decoration':'overline'},t1);s1.textContent='\u03bc\u2080\u03c1';
  const t2=txt('V',x0+46,139,14,'start',lg);
  const s2=el('tspan',{'font-family':'Liberation Serif,serif','font-style':'italic','font-size':10,dy:3},t2);s2.textContent='remaining';
}
function lambdaText(x,y,a,b,val){
  const t=txt('',x,y,16,'start');
  
  
  const s=el('tspan',{'font-family':'Liberation Serif,serif','font-style':'italic'},t);s.textContent='\u03bb';
  const s2=el('tspan',{'font-size':10,dy:4},t);s2.textContent=a;
  const s3=el('tspan',{'font-family':'Liberation Serif,serif','font-style':'italic',dy:-4},t);s3.textContent='/\u03bb';
  const s4=el('tspan',{'font-size':10,dy:4},t);s4.textContent=b;
  const s5=el('tspan',{dy:-4},t);s5.textContent=' \u2248 '+val;
}
// ---- Panel 2
(function(){
  const ax=makeAxes('hodogram-v2-v1-mvab',673,84,454,454,[-65,55],[-80,40]);
  drawTicks(ax,h2XTicks,h2XTicks.map(v=>fmt(v,0)),hYTicks80,hYTicks80.map(v=>fmt(v,0)),{grid:true});
  line(ax,h2BlueX,h2BlueY,'#00f',2,'b-alfven-path');dots(ax,h2BlueX,h2BlueY,'#00f',4,'b-alfven-points');
  line(ax,h2RedX,h2RedY,'#f00',2,'v-remaining-path');dots(ax,h2RedX,h2RedY,'#f00',4,'v-remaining-points');
  frame(ax);
  title('Hodogram(V2_V1 MVAB frame)',900,74);
  xlabel('V2(km/s)',900,592);ylabel('V1(km/s)',610,311);
  mvabLegend(1007);
  lambdaText(686,520,'1','2','1.76');
})();
// ---- Panel 3
(function(){
  const ax=makeAxes('hodogram-v3-v1-mvab',1229,84,454,454,[-90,30],[-80,40]);
  drawTicks(ax,h3XTicks,h3XTicks.map(v=>fmt(v,0)),hYTicks80,hYTicks80.map(v=>fmt(v,0)),{grid:true});
  line(ax,h3BlueX,h3BlueY,'#00f',2,'b-alfven-path');dots(ax,h3BlueX,h3BlueY,'#00f',4,'b-alfven-points');
  line(ax,h3RedX,h3RedY,'#f00',2,'v-remaining-path');dots(ax,h3RedX,h3RedY,'#f00',4,'v-remaining-points');
  frame(ax);
  title('Hodogram(V3_V1 MVAB frame)',1456,74);
  xlabel('V3(km/s)',1456,592);ylabel('V1(km/s)',1166,311);
  mvabLegend(1563);
  lambdaText(1242,520,'1','3','17.64');
})();
// ---- Panel 4 Walen
(function(){
  const ax=makeAxes('walen-test-chart',117,662,454,454,[-52.5,72.5],[-52.5,72.5]);
  drawTicks(ax,walenXTicks,walenXTicks.map(v=>fmt(v,0)),walenYTicks,walenYTicks.map(v=>fmt(v,0)));
  dots(ax,walenRedX,walenRedY,'#f00',6.5,'walen-red-points');
  dots(ax,walenGreenX,walenGreenY,'#080',6.5,'walen-green-points');
  dots(ax,walenBlueX,walenBlueY,'#00f',6.5,'walen-blue-points');
  const fx=[-52.5,72.5];
  const fl=el('line',{x1:ax.x(fx[0]),y1:ax.y(walenFit[0]*fx[0]+walenFit[1]),x2:ax.x(fx[1]),y2:ax.y(walenFit[0]*fx[1]+walenFit[1]),stroke:'#000','stroke-width':2.2,'stroke-dasharray':'10,6'},ax.data);
  
  
  frame(ax);
  title('WalenTest',344,651);
  const xl=xlabel('V',344,1170);const xs=el('tspan',{'font-family':'Liberation Serif,serif','font-style':'italic','font-size':11,dy:4},xl);xs.textContent='A';const xs2=el('tspan',{dy:-4},xl);xs2.textContent='(km/s)';
  const yl=ylabel('V',47,889);const ys=el('tspan',{'font-family':'Liberation Serif,serif','font-style':'italic','font-size':11,dy:4},yl);ys.textContent='remaining';const ys2=el('tspan',{dy:-4},yl);ys2.textContent='(km/s)';
  const bx=el('g',{});
  
  
  el('rect',{x:125,y:669,width:144,height:49,fill:'#fff',stroke:'#000','stroke-width':2},bx);
  txt('slope = -0.117',129,690,17,'start',bx);
  const r=txt('',129,713,17,'start',bx);const ri=el('tspan',{'font-family':'Liberation Serif,serif','font-style':'italic'},r);ri.textContent='r';const r2=el('tspan',{},r);r2.textContent=' = -0.429';
})();
// ---- Panel 5
(function(){
  const ax=makeAxes('hodogram-v2-v1-mvav',673,662,454,454,[-42.7,37.3],[-40,40]);
  drawTicks(ax,h5XTicks,h5XTicks.map(v=>fmt(v,0)),hYTicks40,hYTicks40.map(v=>fmt(v,0)),{grid:true});
  line(ax,h5X,h5Y,'#00f',2,'hodogram-path');dots(ax,h5X,h5Y,'#00f',4,'hodogram-points');
  frame(ax);
  const t=title('Hodogram (V2_V1 MVAV',880,651);const s=el('tspan',{'font-family':'Liberation Serif,serif','font-style':'italic','font-size':15,dy:4},t);s.textContent='remaining';const s2=el('tspan',{dy:-4},t);s2.textContent=' frame)';
  xlabel('V2(km/s)',900,1170);ylabel('V1(km/s)',610,889);
  lambdaText(686,1100,'1','2','3.27');
})();
// ---- Panel 6
(function(){
  const ax=makeAxes('hodogram-v3-v1-mvav',1229,662,454,454,[-37.7,42.3],[-40,40]);
  drawTicks(ax,h6XTicks,h6XTicks.map(v=>fmt(v,0)),hYTicks40,hYTicks40.map(v=>fmt(v,0)),{grid:true});
  line(ax,h6X,h6Y,'#00f',2,'hodogram-path');dots(ax,h6X,h6Y,'#00f',4,'hodogram-points');
  frame(ax);
  const t=title('Hodogram (V3_V1 MVAV',1436,651);const s=el('tspan',{'font-family':'Liberation Serif,serif','font-style':'italic','font-size':15,dy:4},t);s.textContent='remaining';const s2=el('tspan',{dy:-4},t);s2.textContent=' frame)';
  xlabel('V3(km/s)',1456,1170);ylabel('V1(km/s)',1166,889);
  lambdaText(1262,1097,'1','3','7.11');
})();

// ---- time series
const TSL=117,TSW=1566,TSH=222,TDOM=[26.8,248.4];
function tsPanel(name,top,yd,yt,ylabels,ttl){
  const ax=makeAxes(name,TSL,top,TSW,TSH,TDOM,yd);
  drawTicks(ax,timeTicks,timeTickLabels,yt,ylabels,{xoff:24});
  title(ttl,900,top-10,22);
  return ax;
}
function tsLegend(x,y,w,entries){
  const lg=el('g',{});
  
  
  el('rect',{x:x,y:y,width:w,height:entries.length*23+10,fill:'#fff',stroke:'#000','stroke-width':2},lg);
  entries.forEach((e,i)=>{const yy=y+16+i*23;el('line',{x1:x+9,x2:x+30,y1:yy,y2:yy,stroke:e[1],'stroke-width':2},lg);
    const t=txt(e[0],x+w-10,yy+5,14,'end',lg);if(e[2])t.setAttribute('font-family','Liberation Serif,serif');});
}
function zeroLine(ax){const l=el('line',{x1:ax.L,x2:ax.L+ax.W,y1:ax.y(0),y2:ax.y(0),stroke:'#000','stroke-width':1.4,'stroke-dasharray':'9,6'},ax.data);
  
  }

const bTicks=[-6,-4,-2,0,2,4,6,8];
(function(){
  const ax=tsPanel('magnetic-field-gse-chart',1305,[-6,8],bTicks,bTicks.map(v=>fmt(v,0)),'Magnetic Field (GSE Frame)');
  zeroLine(ax);
  line(ax,gseByT,gseByV,'#080',2,'by-line');
  line(ax,gseBzT,gseBzV,'#00f',2,'bz-line');
  line(ax,gseBxT,gseBxV,'#f00',2,'bx-line');
  frame(ax);
  ylabel('B(nT)',64,1416);
  tsLegend(1605,1313,71,[['Bx','#f00'],['By','#080'],['Bz','#00f']]);
})();
(function(){
  const ax=tsPanel('magnetic-field-flux-rope-chart',1639,[-6,8],bTicks,bTicks.map(v=>fmt(v,0)),'Magnetic Field (Flux Rope Frame)');
  zeroLine(ax);
  line(ax,frBmagT,frBmagV,'#000',2,'bmag-line');
  line(ax,frBzT,frBzV,'#00f',2,'bz-prime-line');
  line(ax,frByT,frByV,'#080',2,'by-prime-line');
  line(ax,frBxT,frBxV,'#f00',2,'bx-prime-line');
  frame(ax);
  ylabel('B(nT)',64,1750);
  tsLegend(1601,1646,75,[["Bx'",'#f00'],["By'",'#080'],["Bz'",'#00f'],['|B|','#000']]);
})();
const vTicks=[-500,-400,-300,-200,-100,0,100];
(function(){
  const ax=tsPanel('solar-wind-velocity-chart',1972,[-500,100],vTicks,vTicks.map(v=>fmt(v,0)),'Solar Wind Velocity (GSE Frame)');
  line(ax,vyT,vyV,'#080',2,'vy-line');
  line(ax,vzT,vzV,'#00f',2,'vz-line');
  line(ax,vxT,vxV,'#f00',2,'vx-line');
  frame(ax);
  ylabel('Vsw(km/s)',42,2083);
  tsLegend(1605,1979,71,[['Vx','#f00'],['Vy','#080'],['Vz','#00f']]);
})();
const betaTicks=[0,1,2,3,4,5];
(function(){
  const ax=tsPanel('plasma-beta-chart',2306,[0,5],betaTicks,betaTicks.map(v=>String(v)),'Plasma Beta');
  line(ax,betaT,betaV,'#00f',2,'beta-line');
  frame(ax);
  const yl=ylabel('',74,2417);const a=el('tspan',{'font-family':'Liberation Serif,serif','font-style':'italic'},yl);a.textContent='\u03b2';const b=el('tspan',{'font-size':10,dy:3,'font-family':'Liberation Serif,serif','font-style':'italic'},yl);b.textContent='p';const c=el('tspan',{dy:-3},yl);c.textContent=' and ';const d=el('tspan',{'font-family':'Liberation Serif,serif','font-style':'italic'},yl);d.textContent='\u03b2';
  const lg=el('g',{});
  
  
  el('rect',{x:1608,y:2313,width:68,height:31,fill:'#fff',stroke:'#000','stroke-width':2},lg);
  el('line',{x1:1617,x2:1638,y1:2328,y2:2328,stroke:'#00f','stroke-width':2},lg);
  const t=txt('\u03b2',1660,2332,14,'middle',lg,{'font-family':'Liberation Serif,serif','font-style':'italic'});const ts=el('tspan',{'font-size':9,dy:3},t);ts.textContent='p';
})();
const npTicks=[0,5,10,15,20,25,30,35,40];
(function(){
  const ax=tsPanel('proton-density-chart',2639,[0,40],npTicks,npTicks.map(v=>String(v)),'Proton Number Density');
  line(ax,npT,npV,'#00f',2,'density-line');
  frame(ax);
  ylabel('Np(#/cc)',67,2750);
})();
const tpTicks=[0,0.1,0.2,0.3,0.4,0.5];
(function(){
  const ax=tsPanel('proton-temperature-chart',2973,[0,0.5],tpTicks,tpTicks.map(v=>v.toFixed(1)),'');
  line(ax,tpT,tpV,'#00f',2,'tp-line');
  frame(ax);
  const t=title('Proton Temperature and ',870,2963);const a=el('tspan',{'font-family':'Liberation Serif,serif','font-style':'italic'},t);a.textContent='T';const b=el('tspan',{'font-size':13,dy:4,'font-family':'Liberation Serif,serif','font-style':'italic'},t);b.textContent='e';const c=el('tspan',{dy:-4,'font-family':'Liberation Serif,serif','font-style':'italic'},t);c.textContent='/T';const d=el('tspan',{'font-size':13,dy:4,'font-family':'Liberation Serif,serif','font-style':'italic'},t);d.textContent='p';
  const yl=ylabel('Tp(10',59,3084);const s=el('tspan',{'font-size':10,dy:-6},yl);s.textContent='6';const s2=el('tspan',{dy:6},yl);s2.textContent='K)';
  const lg=el('g',{});
  
  
  el('rect',{x:124,y:2980,width:71,height:27,fill:'#fff',stroke:'#000','stroke-width':2},lg);
  el('line',{x1:134,x2:156,y1:2993,y2:2993,stroke:'#00f','stroke-width':2},lg);
  txt('Tp',187,2998,14,'end',lg);
})();
</script>
</body></html>
